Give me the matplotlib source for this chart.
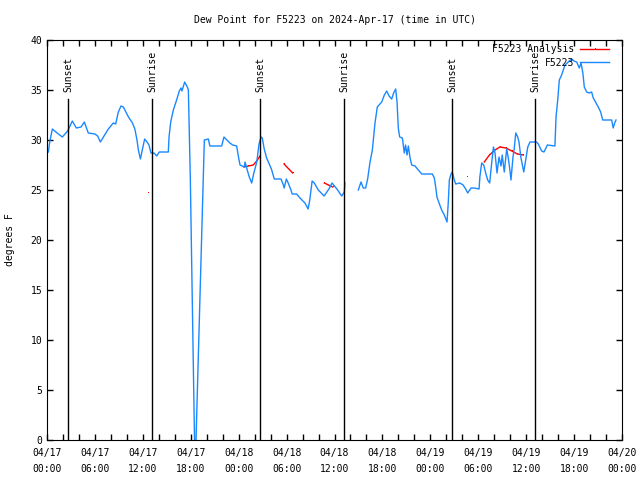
import numpy as np
import matplotlib
matplotlib.use("Agg")
import matplotlib.pyplot as plt
import matplotlib.dates as mdates
from datetime import datetime, timedelta

plt.rcParams['font.family'] = 'DejaVu Sans Mono'
plt.rcParams['font.size'] = 7

start = datetime(2024, 4, 17, 0, 0)

# observed dew point (hours since 04/17 00:00 UTC, deg F); nan = gap
obs_hours = [0.17, 0.34, 0.67, 1.42, 1.92, 2.59, 3.17, 3.67, 4.26, 4.67, 5.17, 6.0, 6.34, 6.68,
             7.68, 8.3, 8.6, 8.93, 9.27, 9.56, 10.2, 10.7, 11.0, 11.27, 11.44, 11.7, 11.93, 12.23,
             12.52, 12.77, 13.02, 13.4, 13.74, 14.06, 15.19, 15.28, 15.49, 15.82, 16.15, 16.57,
             16.78, 16.9, 17.24, 17.57, 17.7, 17.95, 18.54, 19.57, 19.7, 20.2, 20.4, 21.87, 22.16,
             22.9, 23.25, 23.75, 24.0, 24.17, 24.7, 24.8, 25.0, 25.33, 25.63, 25.9, 26.17, 26.3,
             26.55, 26.8, 26.96, 27.2, 27.5, 28.1, 28.46, 29.3, 29.6, 29.7, 29.97, 30.2, 30.55,
             30.7, 31.26, 31.68, 32.3, 32.7, 32.9, 33.2, 33.47, 33.97, 34.7, 35.3, 35.7, 36.3,
             36.9, 37.23, 37.3, 38.0, 38.98, 39.32, 39.6, 39.9, 40.15, 40.45, 40.74, 41.07, 41.36,
             41.91, 42.24, 42.54, 42.83, 43.16, 43.41, 43.66, 43.83, 43.99, 44.16, 44.5, 44.74,
             44.9, 45.08, 45.25, 45.46, 45.67, 46.08, 46.5, 46.92, 48.25, 48.5, 48.67, 48.83,
             49.09, 49.42, 49.75, 50.09, 50.25, 50.38, 50.59, 50.75, 51.0, 51.18, 51.7, 52.1,
             52.43, 52.68, 53.1, 53.5, 54.1, 54.2, 54.43, 54.68, 54.93, 55.18, 55.43, 55.68, 55.9,
             56.1, 56.35, 56.6, 56.85, 57.0, 57.26, 57.56, 57.76, 57.93, 58.1, 58.35, 58.5, 58.7,
             58.94, 59.1, 59.35, 59.7, 59.94, 60.2, 60.48, 61.3, 61.52, 61.94, 62.23, 62.48, 62.65,
             63.6, 63.74, 63.95, 64.15, 64.44, 64.65, 64.86, 65.15, 65.4, 65.7, 66.0, 66.33,
             66.65, 66.87, 67.1, 67.28, 67.58, 67.9, 68.2, 68.4, 68.75, 69.03, 69.33, 69.58,
             70.71, 70.9, 71.08, 71.25]
obs_dewpt = [28.8, 29.8, 31.1, 30.6, 30.3, 30.9, 31.9, 31.2, 31.3, 31.8, 30.7, 30.6, 30.4, 29.8,
             31.1, 31.7, 31.6, 32.8, 33.4, 33.3, 32.3, 31.7, 31.1, 30.0, 29.0, 28.1, 29.0, 30.1,
             29.8, 29.5, 28.7, 28.7, 28.4, 28.8, 28.8, 30.3, 31.8, 33.0, 33.8, 34.9,
             35.2, 34.9, 35.8, 35.3, 35.0, 26.0, -3.4, 26.0, 30.0, 30.1, 29.4, 29.4, 30.3,
             29.7, 29.5, 29.4, 28.2, 27.5, 27.3, 27.8, 27.2, 26.3, 25.7, 26.7, 27.5, 28.0,
             29.6, 30.3, 30.2, 29.1, 28.2, 27.1, 26.1, 26.1, 25.5, 25.2, 26.1, 25.7, 25.0,
             24.6, 24.6, 24.2, 23.7, 23.1, 24.0, 25.9, 25.7, 25.0, 24.4, 25.1, 25.7, 25.1,
             24.4, 24.8, 25.7, np.nan, 25.0, 25.8, 25.2, 25.2, 26.1, 27.8, 29.0, 31.7, 33.3,
             33.8, 34.5, 34.9, 34.4, 34.1, 34.7, 35.1, 33.8, 31.2, 30.3, 30.2, 28.7,
             29.5, 28.5, 29.4, 28.2, 27.5, 27.4, 27.0, 26.6, 26.6, 26.2, 25.3, 24.3,
             23.7, 23.0, 22.5, 21.8, 23.8, 26.0, 26.6, 26.8, 26.0, 25.6, 25.7, 25.5,
             25.1, 24.7, 25.2, 25.2, 25.1, 26.3, 27.7, 27.5, 26.7, 26.0, 25.7, 27.7, 29.3,
             28.7, 26.7, 28.3, 27.4, 28.5, 26.8, 29.1, 28.2, 27.2, 26.0, 28.3, 29.1, 30.7,
             30.3, 29.8, 28.2, 26.8, 28.0, 29.3, 29.8, 29.8, 29.6, 28.9, 28.8, 29.2, 29.5,
             29.4, 32.3, 34.0, 36.0, 36.5, 37.0, 37.5, 37.7, 37.9, 38.1, 37.9, 37.8,
             37.2, 37.7, 36.7, 35.3, 34.8, 34.7, 34.8, 34.2, 33.7, 33.3, 32.8, 32.0,
             32.0, 31.2, 31.7, 32.0]

# analysis dew point
ana_hours = [12.68, 13.0, 24.67, 25.2, 25.83, 26.26, 26.67, 27.5, 29.68, 30.76, 32.0, 34.73, 35.77,
             40.0, 52.63, 53.5, 54.76, 55.4, 56.1, 56.7, 57.47, 58.2, 58.9, 59.65]
ana_dewpt = [24.7, np.nan, 27.3, 27.4, 27.5, 27.9, 28.4, np.nan, 27.6, 26.7, np.nan, 25.7, 25.3,
             np.nan, 26.3, np.nan, 27.8, 28.5, 29.0, 29.3, 29.2, 28.9, 28.6, 28.5]

sun_hours = [2.67, 13.19, 26.71, 37.23, 50.75, 61.15]
sun_labels = ['Sunset', 'Sunrise', 'Sunset', 'Sunrise', 'Sunset', 'Sunrise']


def to_time(hours):
    return [start + timedelta(hours=h) for h in hours]


fig = plt.figure(figsize=(6.4, 4.8), dpi=100)
ax = fig.add_axes([47 / 640, 40 / 480, 575 / 640, 400 / 480])

ax.plot(to_time(ana_hours), ana_dewpt, color='red', lw=1, marker=',',
        label='F5223 Analysis')
ax.plot(to_time(obs_hours), obs_dewpt, color='#1a88ff', lw=1, label='F5223')

for t, lab in zip(to_time(sun_hours), sun_labels):
    ax.plot([t, t], [0, 34.1], color='black', lw=1)
    ax.text(t, 34.8, lab, rotation=90, ha='center', va='bottom')

ax.set_xlim(start, start + timedelta(hours=72))
ax.set_ylim(0, 40)
ax.xaxis.set_major_locator(mdates.HourLocator(byhour=[0, 6, 12, 18]))
ax.xaxis.set_minor_locator(mdates.HourLocator(interval=2))
ax.xaxis.set_major_formatter(mdates.DateFormatter('%m/%d\n%H:%M'))
ax.set_yticks(range(0, 41, 5))
ax.tick_params(which='both', direction='in', top=True, right=True, length=4, width=1)
ax.tick_params(axis='x', pad=6)
for lbl in ax.get_xticklabels():
    lbl.set_linespacing(1.75)

ax.set_title('Dew Point for F5223 on 2024-Apr-17 (time in UTC)', fontsize=7, pad=12)
ax.set_ylabel('degrees F', labelpad=11)

ax.legend(loc='upper right', bbox_to_anchor=(0.99, 1.006), frameon=False, markerfirst=False,
          handlelength=3.0, handletextpad=0.6, labelspacing=0.35, borderaxespad=0.3)

fig.savefig('out.png', dpi=100)
